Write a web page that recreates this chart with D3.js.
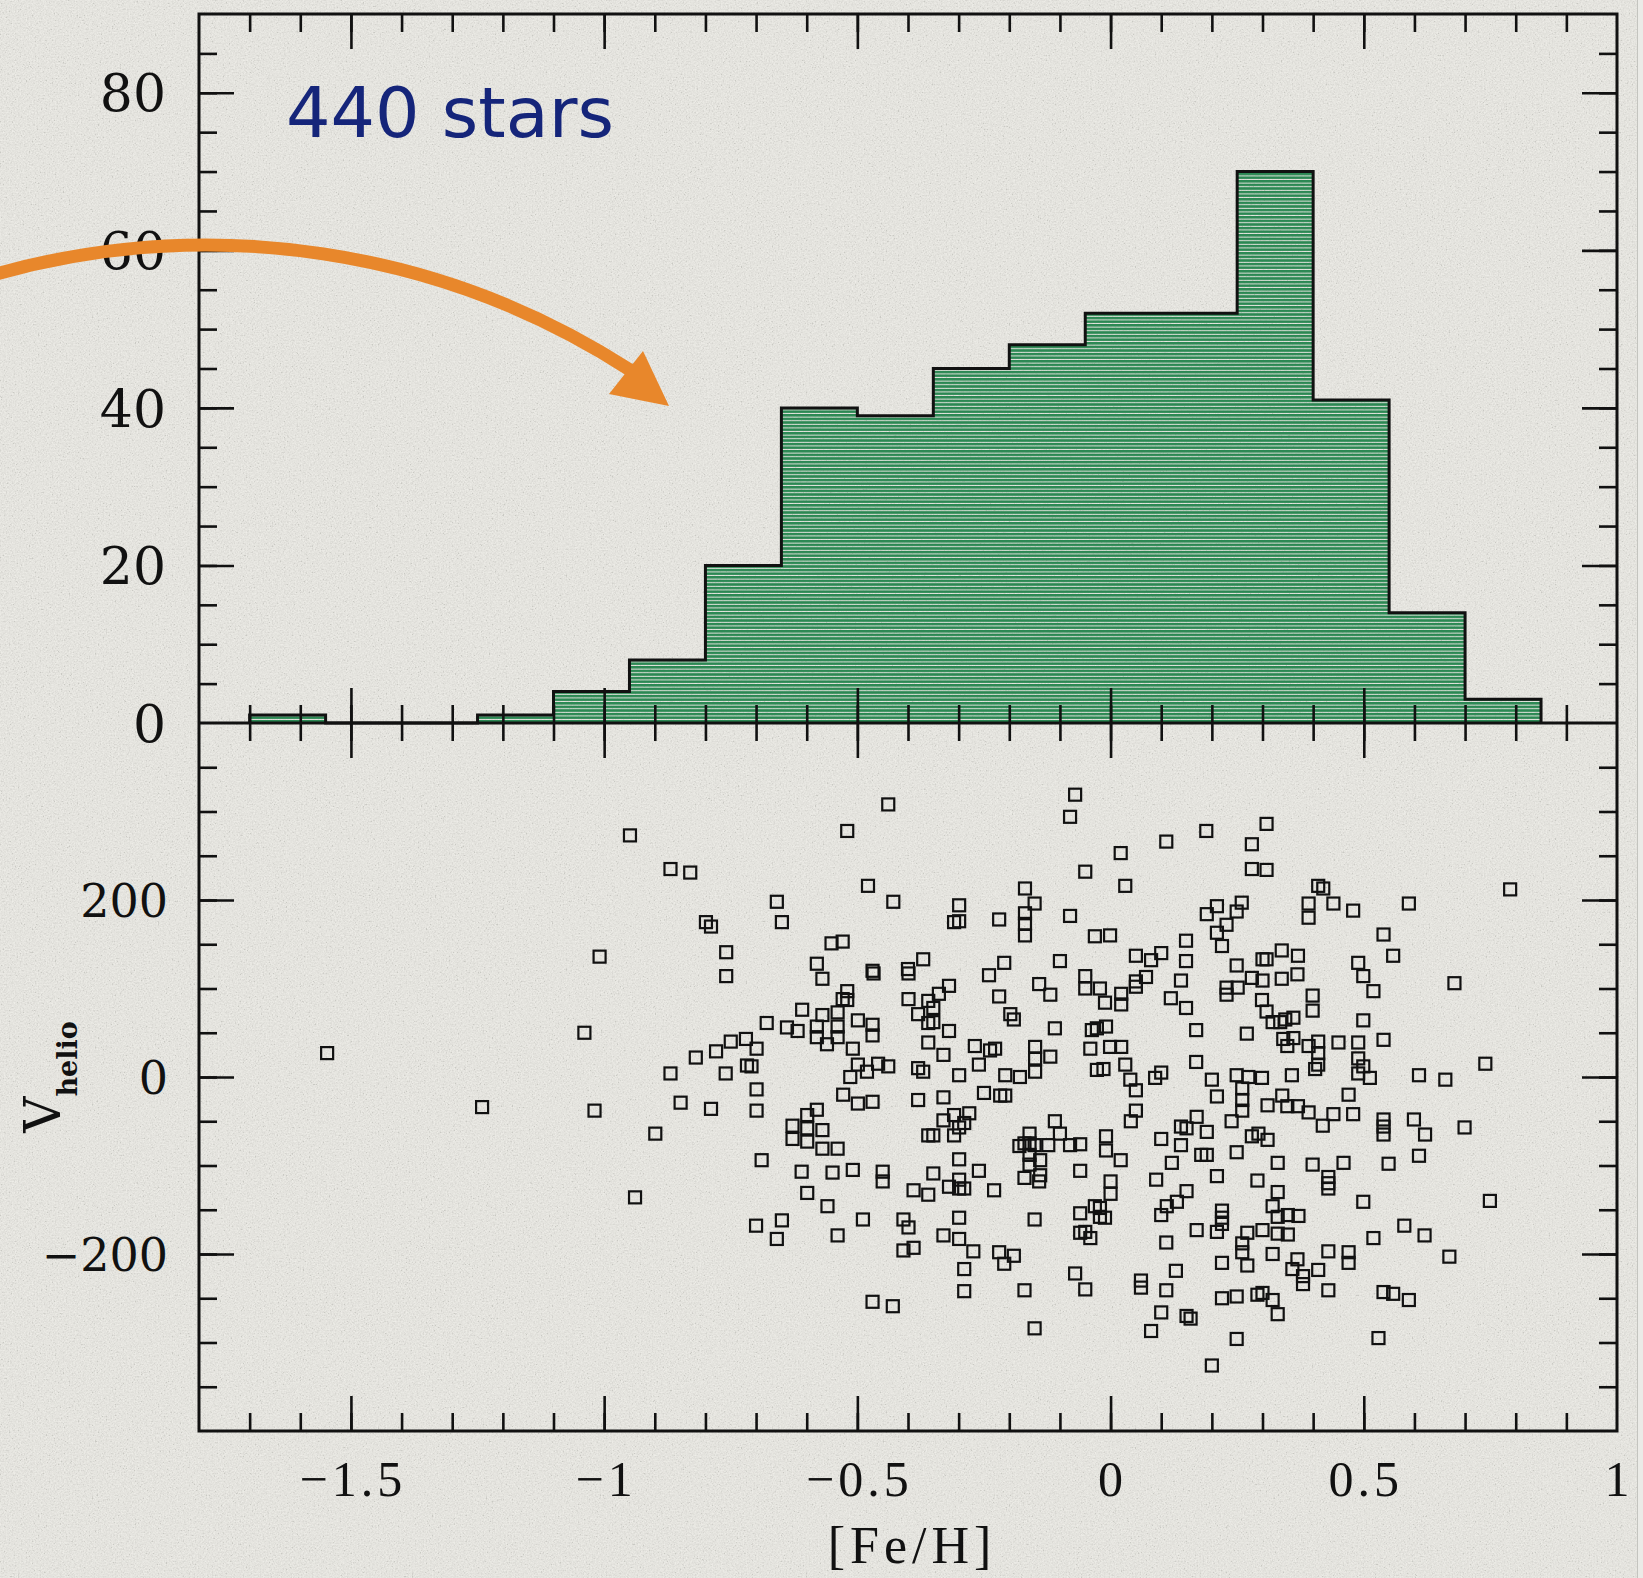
<!DOCTYPE html>
<html>
<head>
<meta charset="utf-8">
<script src="https://cdn.jsdelivr.net/npm/d3@7"></script>
<style>
  html, body { margin: 0; padding: 0; background: #e0dfda; }
  svg { display: block; }
</style>
</head>
<body>
<svg id="chart" width="1643" height="1578"></svg>
<script>
// ---- data ---------------------------------------------------------------
// Metallicity histogram: bin edges and number of stars per bin
const binEdges  = [-1.7, -1.55, -1.4, -1.25, -1.1, -0.95, -0.8, -0.65, -0.5, -0.35,
                   -0.2, -0.05, 0.1, 0.25, 0.4, 0.55, 0.7, 0.85];
const binCounts = [1, 0, 0, 1, 4, 8, 20, 40, 39, 45, 48, 52, 52, 70, 41, 14, 3];

// Individual stars: [ [Fe/H], V_helio (km/s) ]
const stars = [
  [-0.439,308],[-0.520,278],[-0.949,273],[-0.869,235],[-0.830,231],[-0.479,216],[-0.429,198],[-0.659,198],
  [-0.649,175],[-0.799,175],[-0.789,170],[-0.299,194],[-0.309,175],[-0.299,176],[-0.220,178],[-0.169,213],
  [-0.150,196],[-0.169,185],[-0.169,173],[-0.169,160],[-1.009,136],[-0.759,141],[-0.759,114],[-0.551,151],
  [-0.529,153],[-0.580,128],[-0.569,111],[-0.470,120],[-0.468,117],[-0.400,122],[-0.399,117],[-0.370,133],
  [-0.210,129],[-0.240,115],[-0.141,105],[-0.319,103],[-0.339,94],[-0.399,88],[-0.360,86],[-0.350,78],
  [-0.380,71],[-0.360,61],[-0.350,62],[-0.319,52],[-0.360,39],[-0.330,25],[-0.220,91],[-0.198,71],
  [-0.191,65],[-0.520,97],[-0.529,88],[-0.520,87],[-0.609,76],[-0.569,70],[-0.539,73],[-0.499,64],
  [-0.470,59],[-0.470,47],[-0.679,61],[-0.639,56],[-0.618,52],[-0.580,57],[-0.580,45],[-0.539,57],
  [-0.539,45],[-0.560,37],[-0.509,32],[-1.039,50],[-0.750,40],[-0.720,43],[-0.699,32],[-0.779,29],
  [-0.819,22],[-0.718,13],[-0.709,12],[-0.869,4],[-0.760,4],[-0.499,14],[-0.459,15],[-0.439,12],
  [-0.481,6],[-0.514,0],[-0.380,10],[-0.370,6],[-0.268,35],[-0.238,30],[-0.228,32],[-0.260,14],
  [-0.299,2],[-0.208,2],[-0.179,0],[-0.149,34],[-0.149,21],[-0.149,6],
  [-0.070,319],[-0.080,294],[0.189,278],[0.308,286],[0.110,266],[0.279,263],[0.020,253],[-0.050,232],
  [0.279,235],[0.308,234],[0.029,216],[0.410,216],[0.420,213],[0.789,212],[0.589,196],[0.440,196],
  [0.479,188],[0.391,196],[0.391,180],[-0.080,182],[0.210,193],[0.259,197],[0.190,184],[0.249,187],
  [0.229,172],[0.210,163],[0.220,148],[-0.031,159],[-0.001,160],[0.149,154],[0.149,131],[0.539,161],
  [0.558,137],[-0.100,131],[0.050,137],[0.080,132],[0.100,140],[0.070,113],[0.050,108],[0.050,102],
  [-0.050,114],[-0.050,100],[-0.021,100],[0.021,94],[-0.011,84],[0.021,82],[-0.119,93],[0.139,109],
  [0.119,89],[0.149,78],[0.249,126],[0.279,112],[0.300,133],[0.308,133],[0.338,143],[0.370,137],
  [0.338,111],[0.369,116],[0.300,109],[0.229,101],[0.229,93],[0.251,101],[0.299,87],[0.308,74],
  [0.320,62],[0.335,62],[0.345,65],[0.361,67],[0.399,92],[0.399,75],[0.489,129],[0.499,114],
  [0.519,97],[0.679,106],[0.499,64],[0.539,42],[-0.110,55],[-0.037,53],[-0.027,55],[-0.009,57],
  [-0.040,32],[-0.001,34],[0.021,34],[-0.119,23],[0.169,53],[0.269,49],[0.341,43],[0.361,44],
  [0.349,35],[0.391,35],[0.410,40],[0.410,27],[0.450,39],[0.489,39],[0.489,21],[0.499,12],
  [0.169,17],[-0.027,8],[-0.014,9],[0.029,14],[0.100,5],[0.404,9],[0.410,14],[0.740,15],
  [0.609,2],[0.249,2],[0.272,0],[0.299,-1],[0.358,2],[0.489,4],[0.512,-1],[0.661,-3],
  [0.039,-3],[0.088,-1],[0.200,-3],
  [-1.019,-38],[-0.849,-29],[-0.789,-36],[-0.699,-14],[-0.699,-38],[-0.899,-64],[-0.689,-94],[-0.939,-136],
  [-0.528,-20],[-0.499,-30],[-0.470,-28],[-0.580,-37],[-0.599,-43],[-0.628,-55],[-0.599,-58],[-0.569,-60],
  [-0.628,-70],[-0.599,-73],[-0.569,-81],[-0.539,-81],[-0.610,-107],[-0.549,-108],[-0.509,-105],[-0.450,-107],
  [-0.450,-118],[-0.599,-131],[-0.559,-146],[-0.700,-168],[-0.649,-162],[-0.659,-183],[-0.539,-179],[-0.489,-161],
  [-0.470,-254],[-0.430,-259],[-0.380,-26],[-0.330,-23],[-0.250,-18],[-0.218,-21],[-0.208,-21],[-0.330,-49],
  [-0.309,-43],[-0.279,-41],[-0.289,-52],[-0.299,-57],[-0.360,-66],[-0.350,-66],[-0.309,-66],[-0.299,-93],
  [-0.350,-109],[-0.260,-106],[-0.299,-116],[-0.319,-124],[-0.299,-126],[-0.289,-126],[-0.389,-128],[-0.360,-133],
  [-0.230,-128],[-0.409,-161],[-0.399,-170],[-0.299,-159],[-0.330,-179],[-0.299,-183],[-0.271,-197],[-0.409,-196],
  [-0.389,-193],[-0.220,-198],[-0.191,-202],[-0.210,-211],[-0.289,-217],[-0.289,-242],[-0.170,-241],[-0.150,-284],
  [-0.150,-161],[-0.160,-64],[-0.180,-78],[-0.170,-75],[-0.160,-75],[-0.150,-77],[-0.160,-88],[-0.139,-94],
  [-0.160,-99],[-0.170,-114],[-0.141,-118],[-0.139,-111],
  [0.050,-15],[0.260,-13],[0.210,-22],[0.260,-26],[0.260,-38],[0.310,-32],[0.339,-21],[0.349,-33],
  [0.370,-33],[0.391,-40],[0.440,-42],[0.419,-55],[0.470,-20],[0.479,-42],[0.539,-48],[0.539,-56],
  [0.539,-65],[0.599,-48],[0.621,-65],[0.699,-57],[0.609,-89],[0.549,-98],[0.460,-97],[0.399,-99],
  [0.330,-97],[0.430,-113],[0.430,-120],[0.430,-126],[0.499,-141],[0.749,-140],[0.580,-168],[0.620,-179],
  [0.519,-182],[0.669,-203],[0.430,-197],[0.470,-198],[0.470,-210],[-0.110,-50],[-0.100,-64],[-0.123,-77],
  [-0.080,-77],[-0.060,-76],[-0.009,-67],[-0.009,-83],[0.020,-94],[0.040,-50],[0.050,-38],[-0.060,-106],
  [0.000,-118],[0.000,-132],[-0.060,-154],[-0.031,-146],[-0.021,-148],[-0.011,-159],[-0.021,-158],[-0.060,-176],
  [-0.050,-175],[-0.040,-182],[0.100,-70],[0.139,-77],[0.139,-56],[0.150,-58],[0.170,-45],[0.190,-62],
  [0.121,-97],[0.090,-116],[0.179,-88],[0.190,-88],[0.210,-112],[0.239,-50],[0.279,-67],[0.292,-64],
  [0.310,-71],[0.249,-85],[0.290,-117],[0.330,-130],[0.150,-129],[0.131,-141],[0.111,-146],[0.100,-156],
  [0.220,-151],[0.220,-159],[0.220,-166],[0.170,-173],[0.210,-175],[0.110,-187],[0.320,-146],[0.330,-158],
  [0.350,-156],[0.371,-157],[0.270,-176],[0.300,-173],[0.330,-177],[0.350,-178],[0.260,-188],[0.260,-198],
  [0.320,-200],[0.220,-210],[0.270,-213],[0.369,-206],[0.359,-217],[0.410,-218],[0.380,-225],[0.380,-234],
  [0.430,-241],[-0.070,-222],[-0.050,-240],[0.060,-230],[0.060,-238],[0.129,-219],[0.110,-241],[0.220,-250],
  [0.249,-248],[0.290,-246],[0.300,-244],[0.320,-252],[0.330,-268],[0.100,-266],[0.150,-270],[0.158,-273],
  [0.080,-287],[0.249,-296],[0.200,-326],[0.539,-243],[0.558,-245],[0.589,-252],[0.529,-295],
  [-1.547,27],[-1.241,-34]
];

// Axis tick values and labels
const fehLabelTicks  = [-1.5, -1, -0.5, 0, 0.5, 1];
const fehMajorTicks  = [-1.5, -1, -0.5, 0, 0.5];
const fehMinorTicks  = d3.range(-17, 10).map(i => i / 10);
const countLabelTicks = [0, 20, 40, 60, 80];
const countMajorTicks = [20, 40, 60, 80];
const countMinorTicks = d3.range(1, 18).map(i => i * 5);
const velLabelTicks  = [-200, 0, 200];
const velMinorTicks  = d3.range(-7, 8).map(i => i * 50);
const starLabel = "440 stars";

// ---- layout -------------------------------------------------------------
const W = 1643, H = 1578;
const frameL = 199, frameR = 1617, frameT = 14, frameM = 723, frameB = 1431;
const ink = "#111";

const x  = d3.scaleLinear().domain([-1.8, 1]).range([frameL, frameR]);
const yH = d3.scaleLinear().domain([0, 90]).range([frameM, frameT]);
const yV = d3.scaleLinear().domain([-400, 400]).range([frameB, frameM]);

const svg = d3.select("#chart");
const defs = svg.append("defs");

// paper grain: grey fractal noise with boosted contrast
const grain = defs.append("filter").attr("id", "grain")
  .attr("x", 0).attr("y", 0).attr("width", "100%").attr("height", "100%");
grain.append("feTurbulence").attr("type", "fractalNoise").attr("baseFrequency", 0.65)
  .attr("numOctaves", 3).attr("seed", 7).attr("stitchTiles", "stitch");
grain.append("feColorMatrix").attr("type", "matrix")
  .attr("values", "0.33 0.33 0.33 0 0  0.33 0.33 0.33 0 0  0.33 0.33 0.33 0 0  0 0 0 0 1");
const boost = grain.append("feComponentTransfer");
["feFuncR", "feFuncG", "feFuncB"].forEach(f =>
  boost.append(f).attr("type", "linear").attr("slope", 2.6).attr("intercept", -0.8));

// horizontal hatching for the histogram
const hatch = defs.append("pattern").attr("id", "hatch")
  .attr("patternUnits", "userSpaceOnUse").attr("width", 10).attr("height", 3.6);
hatch.append("rect").attr("width", 10).attr("height", 2.6).attr("fill", "#2b8853");

svg.append("rect").attr("width", W).attr("height", H).attr("fill", "#ecebe5");
svg.append("rect").attr("width", W).attr("height", H).attr("filter", "url(#grain)").attr("opacity", 0.14);
// slide edge on the right
svg.append("rect").attr("x", 1637).attr("y", 0).attr("width", 6).attr("height", H).attr("fill", "#ebebe7");
svg.append("line").attr("x1", 1637.5).attr("x2", 1637.5).attr("y1", 0).attr("y2", H)
  .attr("stroke", "#c4c4bf").attr("stroke-width", 1);

// ---- histogram ----------------------------------------------------------
const bins = binCounts.map((c, i) => ({ x0: binEdges[i], x1: binEdges[i + 1], n: c }));
const stepPts = [[bins[0].x0, 0]];
bins.forEach(b => { stepPts.push([b.x0, b.n]); stepPts.push([b.x1, b.n]); });
stepPts.push([bins[bins.length - 1].x1, 0]);

const histArea = d3.area().x(d => x(d[0])).y0(yH(0)).y1(d => yH(d[1]));
const histLine = d3.line().x(d => x(d[0])).y(d => yH(d[1]));

svg.append("path").attr("d", histArea(stepPts)).attr("fill", "url(#hatch)");
svg.append("path").attr("d", histLine(stepPts)).attr("fill", "none")
  .attr("stroke", ink).attr("stroke-width", 3).attr("stroke-linejoin", "miter");

// ---- frame & ticks ------------------------------------------------------
function ticks(transform, axis, values, size) {
  const g = svg.append("g").attr("transform", transform)
    .call(axis.tickValues(values).tickSize(size).tickFormat(""));
  g.select(".domain").remove();
  g.selectAll(".tick line").attr("stroke", ink).attr("stroke-width", 2.6);
  g.selectAll(".tick text").remove();
}
const minorLen = -18, majorLen = -35;

// top edge
ticks(`translate(0,${frameT})`, d3.axisTop(x), fehMinorTicks, minorLen);
ticks(`translate(0,${frameT})`, d3.axisTop(x), fehMajorTicks, majorLen);
// shared middle axis: ticks into both panels
ticks(`translate(0,${frameM})`, d3.axisBottom(x), fehMinorTicks, minorLen);
ticks(`translate(0,${frameM})`, d3.axisBottom(x), fehMajorTicks, majorLen);
ticks(`translate(0,${frameM})`, d3.axisTop(x), fehMinorTicks, minorLen);
ticks(`translate(0,${frameM})`, d3.axisTop(x), fehMajorTicks, majorLen);
// bottom edge
ticks(`translate(0,${frameB})`, d3.axisBottom(x), fehMinorTicks, minorLen);
ticks(`translate(0,${frameB})`, d3.axisBottom(x), fehMajorTicks, majorLen);
// histogram sides
ticks(`translate(${frameL},0)`, d3.axisLeft(yH), countMinorTicks, minorLen);
ticks(`translate(${frameL},0)`, d3.axisLeft(yH), countMajorTicks, majorLen);
ticks(`translate(${frameR},0)`, d3.axisRight(yH), countMinorTicks, minorLen);
ticks(`translate(${frameR},0)`, d3.axisRight(yH), countMajorTicks, majorLen);
// velocity sides
ticks(`translate(${frameL},0)`, d3.axisLeft(yV), velMinorTicks, minorLen);
ticks(`translate(${frameL},0)`, d3.axisLeft(yV), velLabelTicks, majorLen);
ticks(`translate(${frameR},0)`, d3.axisRight(yV), velMinorTicks, minorLen);
ticks(`translate(${frameR},0)`, d3.axisRight(yV), velLabelTicks, majorLen);

svg.append("rect").attr("x", frameL).attr("y", frameT)
  .attr("width", frameR - frameL).attr("height", frameB - frameT)
  .attr("fill", "none").attr("stroke", ink).attr("stroke-width", 3);
svg.append("line").attr("x1", frameL).attr("x2", frameR).attr("y1", frameM).attr("y2", frameM)
  .attr("stroke", ink).attr("stroke-width", 3);

// ---- scatter ------------------------------------------------------------
const box = 12;
svg.append("g").selectAll("rect").data(stars).join("rect")
  .attr("x", d => x(d[0]) - box / 2).attr("y", d => yV(d[1]) - box / 2)
  .attr("width", box).attr("height", box)
  .attr("fill", "none").attr("stroke", ink).attr("stroke-width", 2.2);

// ---- labels -------------------------------------------------------------
const fmt = d3.format("~g");
svg.append("g").selectAll("text").data(countLabelTicks).join("text")
  .attr("x", 166).attr("y", d => yH(d)).attr("dy", "0.36em")
  .attr("text-anchor", "end").attr("font-family", "'DejaVu Serif', serif")
  .attr("font-size", 52).attr("fill", ink).text(d => fmt(d));

svg.append("g").selectAll("text").data(velLabelTicks).join("text")
  .attr("x", 168).attr("y", d => yV(d)).attr("dy", "0.36em")
  .attr("text-anchor", "end").attr("font-family", "'DejaVu Serif', serif")
  .attr("font-size", 46).attr("fill", ink).text(d => fmt(d));

svg.append("g").selectAll("text").data(fehLabelTicks).join("text")
  .attr("x", d => x(d) + 2).attr("y", 1496)
  .attr("text-anchor", "middle").attr("font-family", "'Liberation Serif', serif")
  .attr("font-size", 50).attr("letter-spacing", 4).attr("fill", ink).text(d => fmt(d));

svg.append("text").attr("x", (frameL + frameR) / 2 + 4).attr("y", 1563)
  .attr("text-anchor", "middle").attr("font-family", "'Liberation Serif', serif")
  .attr("font-size", 52).attr("letter-spacing", 5).attr("fill", ink).text("[Fe/H]");

const vt = svg.append("text").attr("transform", `translate(60,${yV(0)}) rotate(-90)`)
  .attr("text-anchor", "middle").attr("font-family", "'DejaVu Serif', serif").attr("fill", ink);
vt.append("tspan").attr("font-size", 50).text("V");
vt.append("tspan").attr("font-size", 27).attr("font-weight", "bold").attr("dy", 17).text("helio");

svg.append("text").attr("x", 286).attr("y", 137)
  .attr("font-family", "'DejaVu Sans', sans-serif").attr("font-size", 70)
  .attr("fill", "#15257a").text(starLabel);

// ---- annotation arrow ---------------------------------------------------
svg.append("path").attr("d", "M -4 274 A 780 780 0 0 1 630 370")
  .attr("fill", "none").attr("stroke", "#e8872b").attr("stroke-width", 13);
svg.append("polygon").attr("points", "669,406 643,351 609,394").attr("fill", "#e8872b");
</script>
</body>
</html>
